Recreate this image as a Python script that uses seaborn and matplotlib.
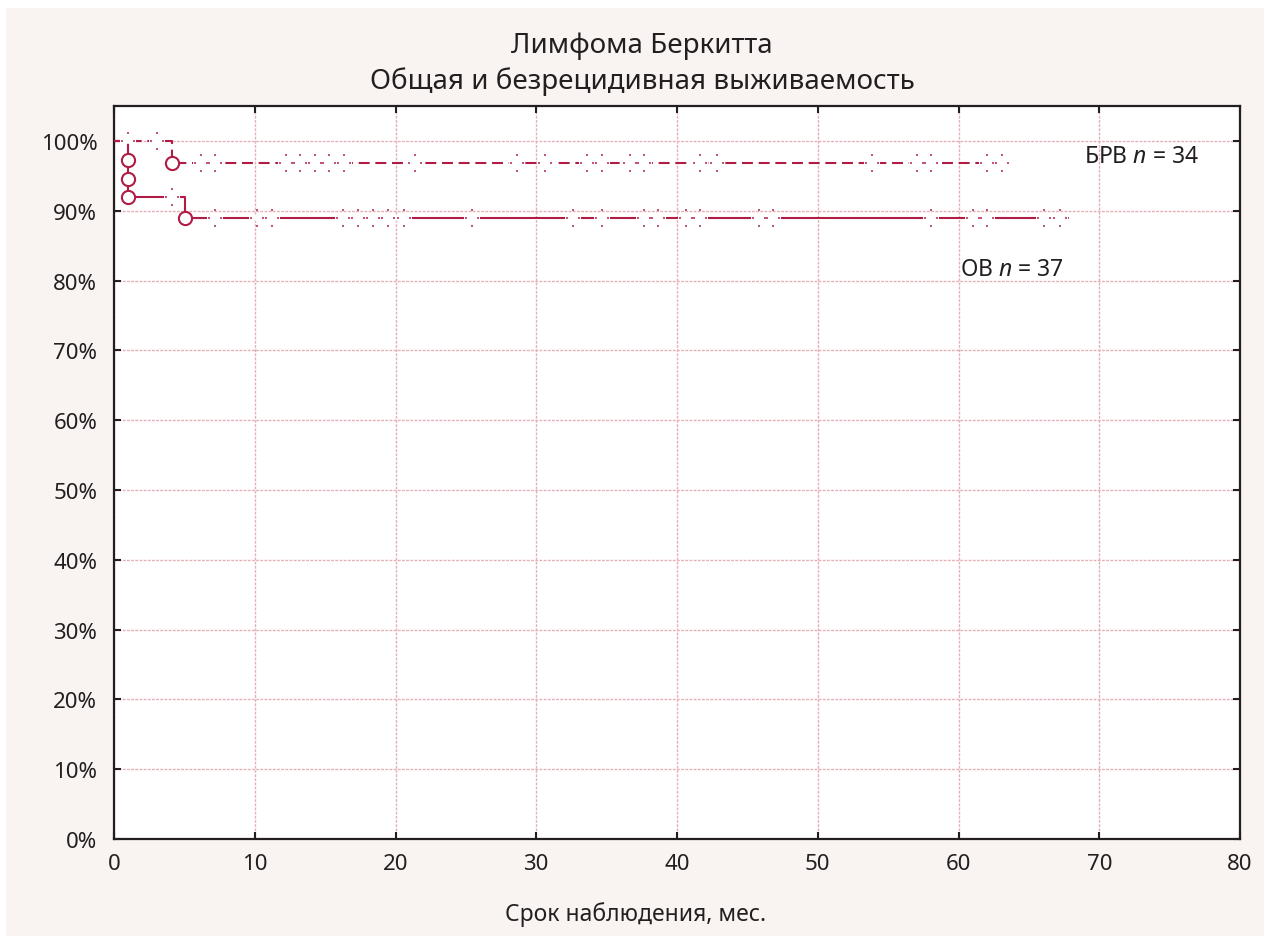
import numpy as np
import pandas as pd
import seaborn as sns
import matplotlib.pyplot as plt
from matplotlib.path import Path
from matplotlib.patches import Rectangle

# Kaplan-Meier steps (months, %)
ob_time = [0, 1.0, 1.0, 1.0, 5.05, 67.75]
ob_surv = [100, 97.3, 94.6, 91.9, 88.9, 88.9]
ob_event_time = [1.0, 1.0, 1.0, 5.05]
ob_event_surv = [97.3, 94.6, 91.9, 88.9]
ob_censor = [4.1, 7.19, 10.18, 11.25, 16.3, 17.37, 18.43, 19.5, 20.57, 25.46,
             32.62, 34.64, 37.63, 38.65, 40.66, 41.66, 45.84, 46.85, 58.03,
             61.04, 62.06, 66.1, 67.21]

brv_time = [0, 4.1, 63.6]
brv_surv = [100, 96.9, 96.9]
brv_event_time = [4.1]
brv_event_surv = [96.9]
brv_censor = [1.0, 3.06, 6.19, 7.19, 12.24, 13.24, 14.26, 15.25, 16.32, 21.42,
              28.61, 30.63, 33.64, 34.66, 36.65, 37.63, 41.66, 42.83, 53.86,
              57.03, 58.03, 62.06, 63.06]

title = "Лимфома Беркитта\nОбщая и безрецидивная выживаемость"
xlabel = "Срок наблюдения, мес."
x_ticks = [0, 10, 20, 30, 40, 50, 60, 70, 80]
y_ticks = [0, 10, 20, 30, 40, 50, 60, 70, 80, 90, 100]

RED = "#b01c44"
TXT = "#231f20"

sns.set_theme(style="ticks")
plt.rcParams['font.family'] = ['Noto Sans', 'DejaVu Sans']
plt.rcParams['mathtext.fontset'] = 'custom'
plt.rcParams['mathtext.it'] = 'Noto Sans:italic'
plt.rcParams['mathtext.rm'] = 'Noto Sans'


def level_at(times, surv, t):
    idx = np.searchsorted(times, t, side='right') - 1
    return surv[idx]


# censor mark: four tiny dots in a cross
def dot(cx, cy, r=0.13):
    return [(cx - r, cy - r), (cx + r, cy - r), (cx + r, cy + r), (cx - r, cy + r), (cx - r, cy - r)]

verts, codes = [], []
for cx, cy in [(0, 1), (0, -1), (0.8, 0), (-0.8, 0)]:
    verts += dot(cx, cy)
    codes += [Path.MOVETO, Path.LINETO, Path.LINETO, Path.LINETO, Path.CLOSEPOLY]
cross = Path(verts, codes)

fig = plt.figure(figsize=(12.64, 9.37), dpi=100, facecolor='white')
fig.patches.append(Rectangle((6 / 1264, 0), 1, (937 - 9) / 937, transform=fig.transFigure,
                             facecolor='#f9f4f1', edgecolor='none', zorder=-10))
ax = fig.add_axes([114 / 1264, 97 / 937, 1126 / 1264, 733 / 937])
ax.set_facecolor('white')

ob = pd.DataFrame({'t': ob_time, 's': ob_surv})
brv = pd.DataFrame({'t': brv_time, 's': brv_surv})

sns.lineplot(data=ob, x='t', y='s', estimator=None, sort=False, drawstyle='steps-post',
             color=RED, linewidth=1.5, ax=ax, zorder=3)
sns.lineplot(data=brv, x='t', y='s', estimator=None, sort=False, drawstyle='steps-post',
             color=RED, linewidth=1.5, linestyle=(0, (5.25, 2.75)), ax=ax, zorder=3)

for times, surv, cens in [(ob_time, ob_surv, ob_censor), (brv_time, brv_surv, brv_censor)]:
    cy = [level_at(times, surv, c) for c in cens]
    ax.plot(cens, cy, linestyle='none', marker='_', markersize=11, markeredgewidth=4,
            color='white', zorder=4)
    ax.plot(cens, cy, linestyle='none', marker=cross, markersize=13, markeredgewidth=0,
            color=RED, alpha=0.75, zorder=5)

sns.scatterplot(x=ob_event_time + brv_event_time, y=ob_event_surv + brv_event_surv,
                marker='o', s=90, facecolor='white', edgecolor=RED, linewidth=1.5,
                ax=ax, zorder=6)

ax.set_xlim(0, 80)
ax.set_ylim(0, 105)
ax.set_xticks(x_ticks)
ax.set_yticks(y_ticks)
ax.set_yticklabels([f"{v}%" for v in y_ticks])
ax.grid(True, color='#e6b0b8', linestyle=(0, (2, 1)), linewidth=1.0)
ax.tick_params(direction='in', length=5, width=1.5, colors=TXT, labelsize=16,
               top=True, right=True, pad=10)
ax.tick_params(axis='y', pad=12)
for sp in ax.spines.values():
    sp.set_linewidth(1.6)
    sp.set_color(TXT)

ax.set_xlabel(xlabel, fontsize=16.5, color=TXT, labelpad=22)
ax.xaxis.set_label_coords((636 - 114) / 1126, -0.085)
ax.set_ylabel('')
fig.text(642 / 1264, 1 - 64 / 937, title, fontsize=20, color=TXT, ha='center', va='center',
         linespacing=1.35)

ax.text(68.95, 97.9, "БРВ $n$ = 34", fontsize=16.5, color=TXT, va='center')
ax.text(60.1, 81.7, "ОВ $n$ = 37", fontsize=16.5, color=TXT, va='center')

fig.savefig('out.png', dpi=100, facecolor=fig.get_facecolor())
